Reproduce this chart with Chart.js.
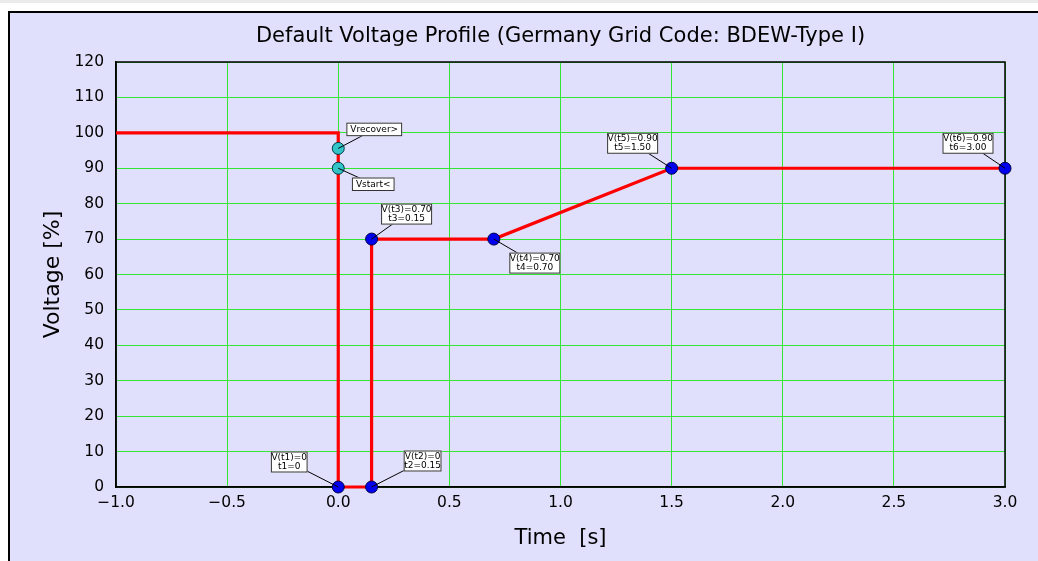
<!DOCTYPE html>
<html>
<head>
<meta charset="utf-8">
<title>Default Voltage Profile</title>
<script src="https://cdn.jsdelivr.net/npm/chart.js@4/dist/chart.umd.min.js"></script>
<style>
  html, body { margin: 0; padding: 0; background: #ffffff; }
  #wrap { position: relative; width: 1038px; height: 561px; }
</style>
</head>
<body>
<div id="wrap"><canvas id="profileChart" width="1038" height="561"></canvas></div>
<script>
// voltage profile (step curve), time in s, voltage in %
const profileTime = [-1.0, 0.0, 0.0, 0.15, 0.15, 0.70, 1.50, 3.00];
const profileVoltage = [100, 100, 0, 0, 70, 70, 90, 90];

// characteristic points t1..t6
const pointNames = ['t1', 't2', 't3', 't4', 't5', 't6'];
const pointTime = [0.0, 0.15, 0.15, 0.70, 1.50, 3.00];
const pointVoltage = [0, 0, 70, 70, 90, 90];

// recovery / start thresholds
const thresholdNames = ['Vrecover>', 'Vstart<'];
const thresholdTime = [0.0, 0.0];
const thresholdVoltage = [95.6, 90];

// axis ranges
const timeRange = [-1.0, 3.0];
const voltageRange = [0, 120];

const BG = '#e0e0fc';
const GRID = '#33e633';

function fmt(v) {
  return v === 0 ? '0' : v.toFixed(2);
}

// label box offsets (px) relative to the marker they describe
const pointLabelOffsets = [[-49, -25], [51, -26], [35, -25], [41, 24], [-39, -25], [-37, -25]];
const thresholdLabelOffsets = [[36, -19], [35, 16]];

const toXY = (xs, ys) => xs.map((x, i) => ({ x: x, y: ys[i] }));

const backgroundPlugin = {
  id: 'figureBackground',
  beforeDraw(chart) {
    const ctx = chart.ctx;
    ctx.save();
    ctx.fillStyle = '#ffffff';
    ctx.fillRect(0, 0, chart.width, chart.height);
    ctx.fillStyle = '#ebebeb';
    ctx.fillRect(0, 0, chart.width, 3);
    ctx.fillStyle = BG;
    ctx.fillRect(9, 12, chart.width - 9, chart.height - 12);
    ctx.strokeStyle = '#000000';
    ctx.lineWidth = 2;
    ctx.beginPath();
    ctx.moveTo(9, chart.height);
    ctx.lineTo(9, 12);
    ctx.lineTo(chart.width, 12);
    ctx.stroke();
    ctx.restore();
  },
  beforeDatasetsDraw(chart) {
    const a = chart.chartArea;
    const ctx = chart.ctx;
    ctx.save();
    ctx.strokeStyle = '#000000';
    ctx.lineWidth = 1.5;
    ctx.strokeRect(a.left, a.top, a.right - a.left, a.bottom - a.top);
    ctx.restore();
  }
};

function drawLabel(ctx, px, py, off, lines) {
  ctx.font = '9px "DejaVu Sans", sans-serif';
  const bx = px + off[0];
  const by = py + off[1];
  const lh = 9.5;
  const w = Math.max(...lines.map(l => ctx.measureText(l).width)) + (lines.length > 1 ? 1 : 8);
  const h = lines.length * lh + (lines.length > 1 ? 2 : 4);
  ctx.strokeStyle = '#000000';
  ctx.lineWidth = 1;
  ctx.beginPath();
  ctx.moveTo(px, py);
  ctx.lineTo(bx, by);
  ctx.stroke();
  ctx.fillStyle = '#ffffff';
  ctx.fillRect(bx - w / 2, by - h / 2, w, h);
  ctx.strokeStyle = '#333333';
  ctx.strokeRect(bx - w / 2 + 0.5, by - h / 2 + 0.5, w - 1, h - 1);
  ctx.fillStyle = '#000000';
  ctx.textAlign = 'center';
  ctx.textBaseline = 'middle';
  lines.forEach((l, i) => {
    ctx.fillText(l, bx, by - h / 2 + (lines.length > 1 ? 1 : 2) + lh * (i + 0.5));
  });
}

const labelPlugin = {
  id: 'pointLabels',
  afterDatasetsDraw(chart) {
    const xs = chart.scales.x;
    const ys = chart.scales.y;
    const ctx = chart.ctx;
    ctx.save();
    thresholdNames.forEach((n, i) => {
      drawLabel(ctx, xs.getPixelForValue(thresholdTime[i]), ys.getPixelForValue(thresholdVoltage[i]),
        thresholdLabelOffsets[i], [n]);
    });
    pointNames.forEach((n, i) => {
      drawLabel(ctx, xs.getPixelForValue(pointTime[i]), ys.getPixelForValue(pointVoltage[i]),
        pointLabelOffsets[i],
        ['V(' + n + ')=' + fmt(pointVoltage[i] / 100), n + '=' + fmt(pointTime[i])]);
    });
    ctx.restore();
  }
};

Chart.defaults.font.family = "'DejaVu Sans', sans-serif";
Chart.defaults.color = '#000000';

new Chart(document.getElementById('profileChart'), {
  type: 'scatter',
  data: {
    datasets: [
      {
        label: 'Points',
        data: toXY(pointTime, pointVoltage),
        pointRadius: 6,
        pointBackgroundColor: '#0000ee',
        pointBorderColor: '#000044',
        pointBorderWidth: 1,
        clip: false,
        order: 0
      },
      {
        label: 'Thresholds',
        data: toXY(thresholdTime, thresholdVoltage),
        pointRadius: 6,
        pointBackgroundColor: '#33c4c8',
        pointBorderColor: '#003344',
        pointBorderWidth: 1,
        clip: false,
        order: 1
      },
      {
        label: 'Profile',
        data: toXY(profileTime, profileVoltage),
        showLine: true,
        borderColor: '#ff0000',
        borderWidth: 3.2,
        pointRadius: 0,
        tension: 0,
        clip: false,
        order: 2
      }
    ]
  },
  options: {
    responsive: false,
    animation: false,
    layout: { padding: { top: 12, right: 33, bottom: 0, left: 0 } },
    plugins: {
      legend: { display: false },
      tooltip: { enabled: false },
      title: {
        display: true,
        fullSize: false,
        text: 'Default Voltage Profile (Germany Grid Code: BDEW-Type I)',
        font: { size: 21, weight: 'normal' },
        color: '#000000',
        padding: { top: 12.4, bottom: 12.4 }
      }
    },
    scales: {
      x: {
        type: 'linear',
        min: timeRange[0],
        max: timeRange[1],
        afterFit(scale) { scale.height = 74; },
        ticks: {
          stepSize: 0.5,
          padding: 7,
          font: { size: 15.5 },
          color: '#000000',
          maxRotation: 0,
          callback: v => (v < 0 ? '\u2212' : '') + Math.abs(v).toFixed(1)
        },
        grid: { color: GRID, lineWidth: 1, drawTicks: false },
        border: { color: '#000000', width: 1.5 },
        title: {
          display: true,
          text: 'Time  [s]',
          font: { size: 21 },
          color: '#000000',
          padding: { top: 0, bottom: 10 }
        }
      },
      y: {
        type: 'linear',
        min: voltageRange[0],
        max: voltageRange[1],
        afterFit(scale) { scale.width = 116; },
        ticks: {
          stepSize: 10,
          padding: 12,
          font: { size: 15.5 },
          color: '#000000'
        },
        grid: { color: GRID, lineWidth: 1, drawTicks: false },
        border: { color: '#000000', width: 1.5 },
        title: {
          display: true,
          text: 'Voltage [%]',
          font: { size: 22 },
          color: '#000000',
          padding: { top: 40, bottom: 0 }
        }
      }
    }
  },
  plugins: [backgroundPlugin, labelPlugin]
});
</script>
</body>
</html>
